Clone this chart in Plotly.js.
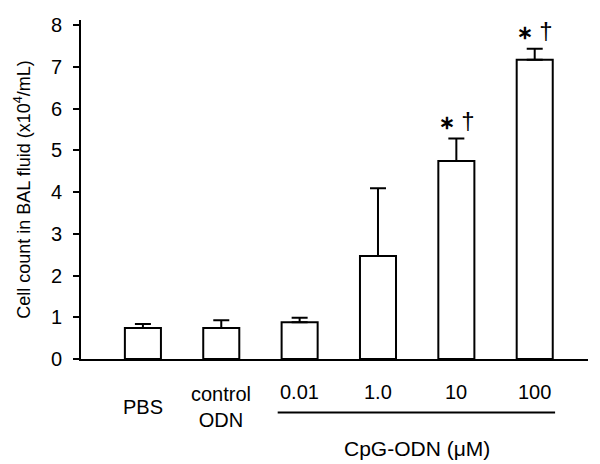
<!DOCTYPE html>
<html>
<head>
<meta charset="utf-8">
<script src="https://cdn.plot.ly/plotly-3.0.1.min.js"></script>
<style>html,body{margin:0;padding:0;background:#fff;}#chart{width:600px;height:464px;}</style>
</head>
<body>
<div id="chart"></div>
<script>
// ---- data ----
const categories = ["PBS", "control ODN", "0.01", "1.0", "10", "100"];
const tickLabels = ["PBS", "control<br>ODN", "0.01", "1.0", "10", "100"];
const meanValues = [0.74, 0.74, 0.88, 2.47, 4.74, 7.17];
const errorUp    = [0.10, 0.19, 0.11, 1.62, 0.54, 0.26];
const sigMarks   = ["", "", "", "", "∗†", "∗†"];
const groupLabel = "CpG-ODN (μM)";
const yTickVals  = [0, 1, 2, 3, 4, 5, 6, 7, 8];

const FONT = "Arial, 'Liberation Sans', sans-serif";
const idx = categories.map((c, i) => i);

function markHtml(s) {
  // style the asterisk and dagger of a significance mark
  return s.split("").map(ch => ch === "∗"
    ? "<span style='font-size:19px'><b>" + ch + "</b></span> "
    : "<span style='font-size:24px'>" + ch + "</span>").join("");
}

const trace = {
  type: "bar",
  x: idx,
  y: meanValues,
  marker: { color: "#ffffff", line: { color: "#000000", width: 2 } },
  error_y: {
    type: "data", symmetric: false, array: errorUp,
    arrayminus: errorUp.map(() => 0),
    color: "#000000", thickness: 2, width: 8
  },
  hoverinfo: "none"
};

const annotations = [];
// category labels
tickLabels.forEach((t, i) => {
  const twoGroup = i < 2;
  annotations.push({
    x: idx[i], xref: "x", y: twoGroup ? -0.143 : -0.097, yref: "paper",
    text: t, showarrow: false, xanchor: "center", yanchor: "middle",
    font: { family: FONT, size: 20, color: "#000" }
  });
});
// significance marks
sigMarks.forEach((s, i) => {
  if (!s) return;
  annotations.push({
    x: idx[i], xref: "x", y: meanValues[i] + errorUp[i], yref: "y",
    text: markHtml(s), showarrow: false, xanchor: "center", yanchor: "bottom", yshift: 3,
    font: { family: FONT, size: 22, color: "#000" }
  });
});
// group label
annotations.push({
  x: (idx[2] + idx[5]) / 2, xref: "x", y: -0.263, yref: "paper",
  text: groupLabel, showarrow: false, xanchor: "center", yanchor: "middle",
  font: { family: FONT, size: 21, color: "#000" }
});

const layout = {
  width: 600, height: 464,
  margin: { l: 81, r: 12, t: 20, b: 105 },
  paper_bgcolor: "#fff", plot_bgcolor: "#fff",
  showlegend: false,
  bargap: 0.54,
  font: { family: FONT, color: "#000" },
  xaxis: {
    range: [-0.79, 5.68], showticklabels: false, ticks: "",
    showgrid: false, zeroline: false,
    showline: true, linecolor: "#000", linewidth: 2
  },
  yaxis: {
    range: [0, 8.12], tickvals: yTickVals, ticks: "outside", ticklen: 6,
    tickwidth: 2, tickcolor: "#000", ticklabelstandoff: 7,
    showgrid: false, zeroline: false,
    showline: true, linecolor: "#000", linewidth: 2,
    tickfont: { family: FONT, size: 20, color: "#000" },
    title: { text: "Cell count in BAL fluid (x10<sup>4</sup>/mL)", standoff: 16,
             font: { family: FONT, size: 18, color: "#000" } }
  },
  shapes: [{
    type: "line", xref: "x", yref: "paper",
    x0: idx[2] - 0.28, x1: idx[5] + 0.26, y0: -0.158, y1: -0.158,
    line: { color: "#000", width: 2 }
  }],
  annotations: annotations
};

Plotly.newPlot("chart", [trace], layout, { staticPlot: true, displayModeBar: false });
</script>
</body>
</html>
